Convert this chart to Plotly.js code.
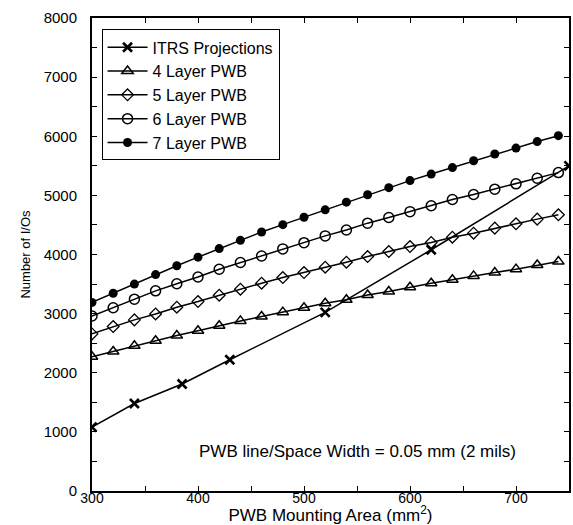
<!DOCTYPE html>
<html>
<head>
<meta charset="utf-8">
<script src="https://cdn.plot.ly/plotly-3.0.1.min.js"></script>
<style>html,body{margin:0;padding:0;background:#fff;}#chart{width:573px;height:525px;}</style>
</head>
<body>
<div id="chart"></div>
<script>
// ---- data ----
const itrsArea = [300, 340, 385, 430, 520, 620, 750];
const itrsIOs  = [1080, 1480, 1810, 2220, 3020, 4080, 5500];

const pwbArea = [300, 320, 340, 360, 380, 400, 420, 440, 460, 480, 500, 520,
                 540, 560, 580, 600, 620, 640, 660, 680, 700, 720, 740];
const layer4 = [2270, 2360, 2455, 2540, 2630, 2710, 2795, 2877, 2950, 3025, 3100, 3175,
                3235, 3315, 3375, 3447, 3515, 3572, 3638, 3694, 3752, 3822, 3880];
const layer5 = [2657, 2781, 2894, 2995, 3109, 3204, 3312, 3413, 3515, 3610, 3694, 3785,
                3870, 3965, 4050, 4135, 4203, 4293, 4361, 4446, 4519, 4598, 4671];
const layer6 = [2960, 3100, 3245, 3385, 3505, 3620, 3750, 3865, 3975, 4095, 4200, 4315,
                4415, 4530, 4625, 4725, 4825, 4930, 5015, 5105, 5195, 5290, 5385];
const layer7 = [3190, 3345, 3500, 3660, 3810, 3955, 4100, 4240, 4380, 4505, 4630, 4755,
                4885, 5010, 5130, 5250, 5360, 5470, 5585, 5700, 5800, 5910, 6010];

const seriesNames = ['ITRS Projections', '4 Layer PWB', '5 Layer PWB', '6 Layer PWB', '7 Layer PWB'];
const xTitle = 'PWB Mounting Area (mm<sup>2</sup>)';
const yTitle = 'Number of I/Os';
const noteText = 'PWB line/Space Width = 0.05 mm (2 mils)';
const notePos = {x: 550, y: 665};

// ---- drawing ----
const FONT = 'Liberation Sans, Arial, Helvetica, sans-serif';
const lineStyle = {color: '#000', width: 1.5};

const traces = [
  {x: itrsArea, y: itrsIOs, name: seriesNames[0], mode: 'lines+markers', line: lineStyle,
   marker: {symbol: 'x-thin', size: 9, line: {color: '#000', width: 2.6}}},
  {x: pwbArea, y: layer4, name: seriesNames[1], mode: 'lines+markers', line: lineStyle,
   marker: {symbol: 'triangle-up-open', size: 10, color: '#000', line: {color: '#000', width: 1.5}}},
  {x: pwbArea, y: layer5, name: seriesNames[2], mode: 'lines+markers', line: lineStyle,
   marker: {symbol: 'diamond-open', size: 9, color: '#000', line: {color: '#000', width: 1.3}}},
  {x: pwbArea, y: layer6, name: seriesNames[3], mode: 'lines+markers', line: lineStyle,
   marker: {symbol: 'circle-open', size: 10, color: '#000', line: {color: '#000', width: 1.5}}},
  {x: pwbArea, y: layer7, name: seriesNames[4], mode: 'lines+markers', line: lineStyle,
   marker: {symbol: 'circle', size: 9, color: '#000'}}
];

const axisCommon = {
  showgrid: false, zeroline: false, showline: true, linecolor: '#000', linewidth: 2,
  mirror: 'ticks', ticks: 'inside', ticklen: 5, tickwidth: 1, tickcolor: '#000',
  tickfont: {family: FONT, size: 15, color: '#000'}
};

const layout = {
  width: 573, height: 525,
  margin: {l: 92, r: 4, t: 18, b: 34},
  paper_bgcolor: '#fff', plot_bgcolor: '#fff',
  font: {family: FONT, color: '#000'},
  showlegend: true,
  legend: {x: 0.02, y: 0.976, xanchor: 'left', yanchor: 'top',
           bgcolor: '#fff', bordercolor: '#000', borderwidth: 1,
           font: {family: FONT, size: 16, color: '#000'}, itemwidth: 40,
           tracegroupgap: 0},
  xaxis: Object.assign({}, axisCommon, {
    range: [300, 750], dtick: 100, tick0: 300,
    tickfont: {family: FONT, size: 14, color: '#000'},
    minor: {dtick: 50, ticks: 'inside', ticklen: 5, tickcolor: '#000'},
    ticklabelstandoff: -7,
    title: {text: xTitle, font: {family: FONT, size: 17, color: '#000'}, standoff: 0}
  }),
  yaxis: Object.assign({}, axisCommon, {
    range: [0, 8000], dtick: 1000, tick0: 0,
    minor: {dtick: 500, ticks: 'inside', ticklen: 5, tickcolor: '#000'},
    ticklabelstandoff: 10,
    title: {text: yTitle, font: {family: FONT, size: 13, color: '#000'}, standoff: 10}
  }),
  annotations: [{x: notePos.x, y: notePos.y, xref: 'x', yref: 'y', text: noteText,
                 showarrow: false, xanchor: 'center', yanchor: 'middle',
                 font: {family: FONT, size: 17, color: '#000'}}]
};

Plotly.newPlot('chart', traces, layout, {displayModeBar: false, staticPlot: true});
</script>
</body>
</html>
